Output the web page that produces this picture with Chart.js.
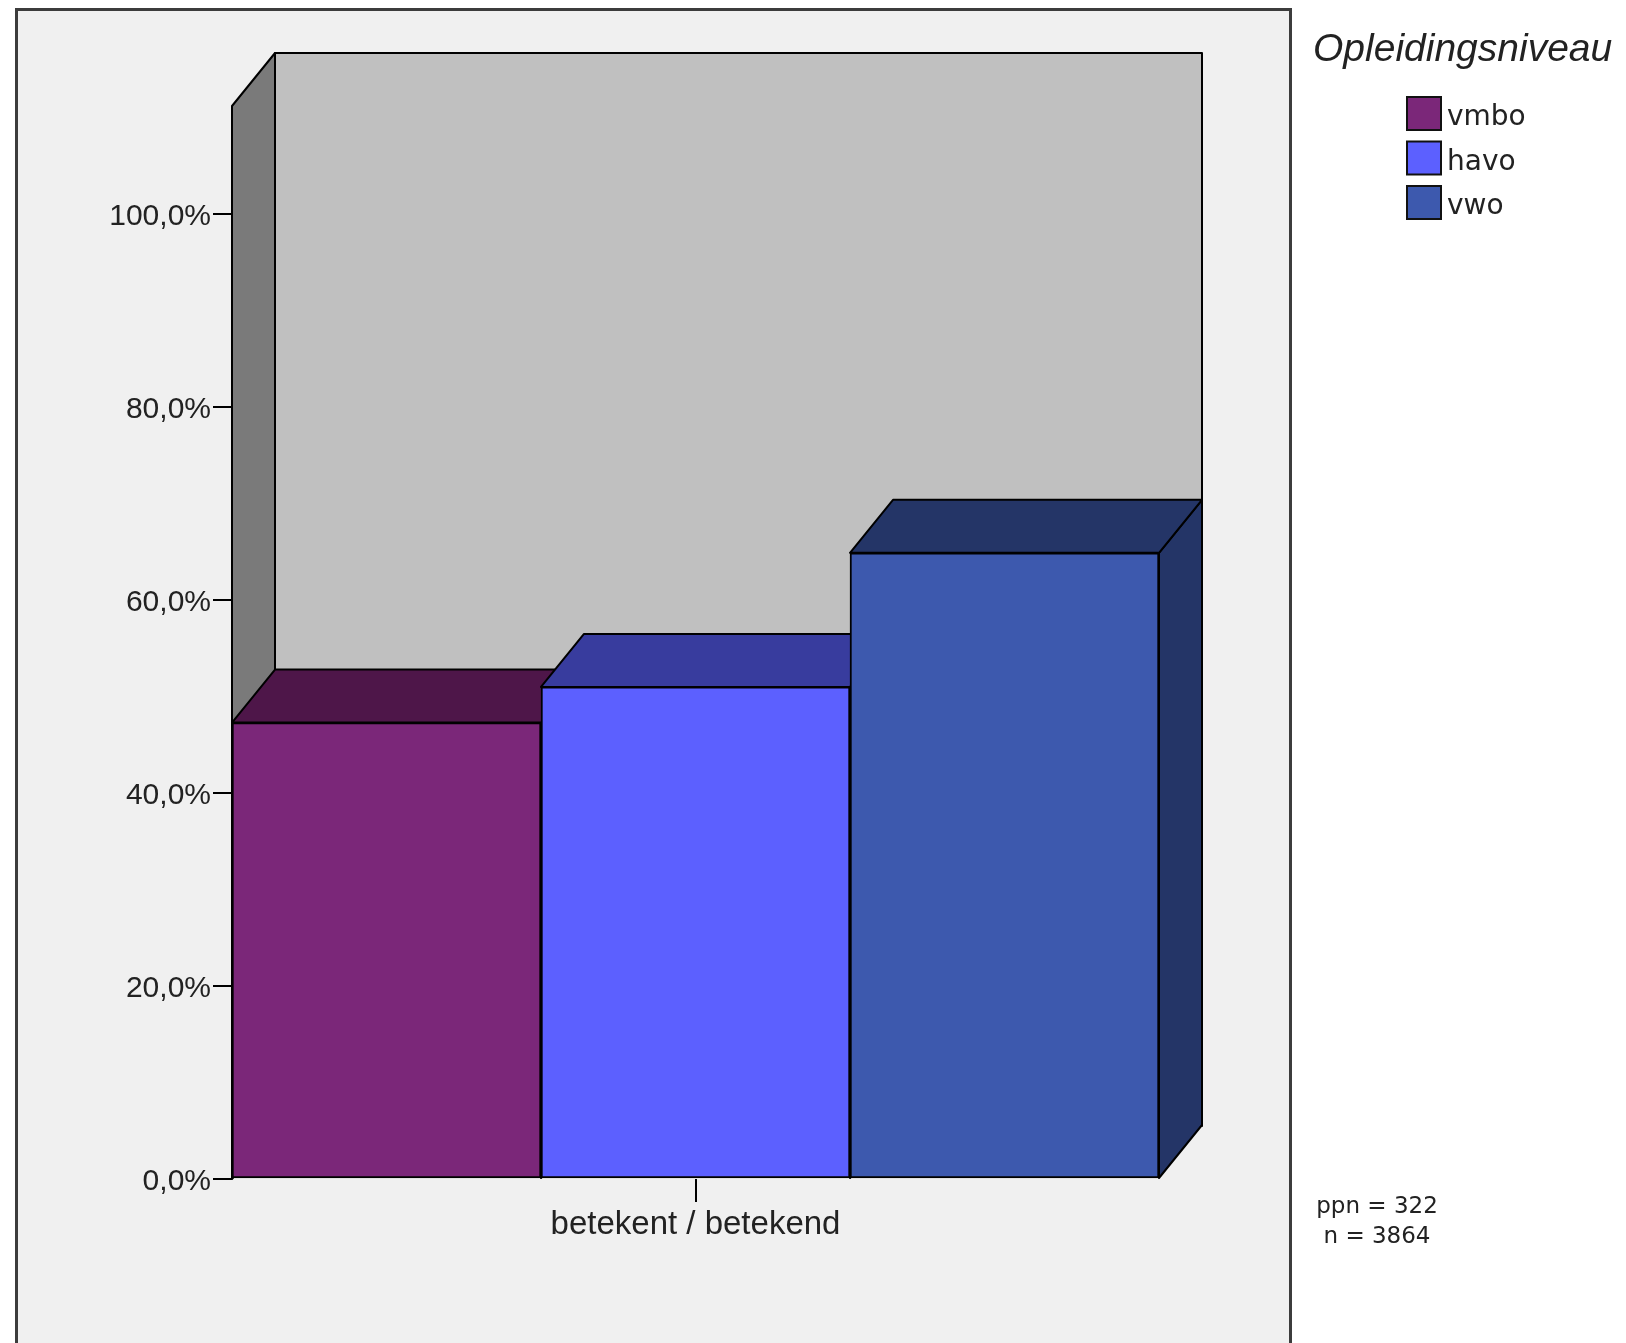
<!DOCTYPE html>
<html>
<head>
<meta charset="utf-8">
<script src="https://cdn.jsdelivr.net/npm/chart.js@4.4.1/dist/chart.umd.min.js"></script>
<style>
  html, body { margin: 0; padding: 0; background: #fff; }
  canvas { display: block; }
</style>
</head>
<body>
<canvas id="chart" width="1626" height="1343"></canvas>
<script>
// data
const categories = ["betekent / betekend"];
const seriesNames = ["vmbo", "havo", "vwo"];
const vmboValues = [47.3];
const havoValues = [51.0];
const vwoValues = [64.9];
const yTicks = [0, 20, 40, 60, 80, 100];
const yMax = 111.2;
const legendTitle = "Opleidingsniveau";
const notes = ["ppn = 322", "n = 3864"];

// colours: front face, top/side face
const frontColors = ["#7b2779", "#5c60ff", "#3d59ae"];
const topColors = ["#4e1649", "#383c9e", "#243567"];
const depthX = 43, depthY = -53;

function poly(ctx, pts, fill) {
  ctx.beginPath();
  ctx.moveTo(pts[0][0], pts[0][1]);
  for (let i = 1; i < pts.length; i++) ctx.lineTo(pts[i][0], pts[i][1]);
  ctx.closePath();
  ctx.fillStyle = fill;
  ctx.fill();
  ctx.stroke();
}

const box3d = {
  id: "box3d",
  beforeDraw(chart) {
    const ctx = chart.ctx;
    ctx.save();
    ctx.fillStyle = "#fff";
    ctx.fillRect(0, 0, chart.width, chart.height);
    ctx.fillStyle = "#f0f0f0";
    ctx.fillRect(15, 8, 1277, 1400);
    ctx.strokeStyle = "#3c3c3c";
    ctx.lineWidth = 3;
    ctx.strokeRect(16.5, 9.5, 1274, 1400);
    ctx.restore();
  },
  beforeDatasetsDraw(chart) {
    const ctx = chart.ctx;
    const a = chart.chartArea;
    ctx.save();
    ctx.strokeStyle = "#000";
    ctx.lineWidth = 2;
    ctx.lineJoin = "round";
    // back wall
    poly(ctx, [[a.left + depthX, a.top + depthY], [a.right + depthX, a.top + depthY],
               [a.right + depthX, a.bottom + depthY], [a.left + depthX, a.bottom + depthY]], "#c0c0c0");
    // left wall
    poly(ctx, [[a.left, a.top], [a.left + depthX, a.top + depthY],
               [a.left + depthX, a.bottom + depthY], [a.left, a.bottom]], "#7a7a7a");
    // tops and right sides of bars, left to right
    chart.data.datasets.forEach((ds, i) => {
      chart.getDatasetMeta(i).data.forEach((bar) => {
        const p = bar.getProps(["x", "y", "base", "width"], true);
        const x0 = p.x - p.width / 2, x1 = p.x + p.width / 2;
        poly(ctx, [[x1, p.y], [x1 + depthX, p.y + depthY], [x1 + depthX, p.base + depthY], [x1, p.base]], topColors[i]);
        poly(ctx, [[x0, p.y], [x0 + depthX, p.y + depthY], [x1 + depthX, p.y + depthY], [x1, p.y]], topColors[i]);
      });
    });
    ctx.restore();
  },
  afterDraw(chart) {
    const ctx = chart.ctx;
    ctx.save();
    ctx.fillStyle = "#222";
    ctx.textAlign = "left";
    ctx.textBaseline = "alphabetic";
    ctx.font = "italic 39px 'Liberation Sans'";
    ctx.fillText(legendTitle, 1313, 61);
    ctx.font = "28px 'DejaVu Sans'";
    ctx.textBaseline = "middle";
    chart.data.datasets.forEach((ds, i) => {
      const top = 97 + i * 44.5;
      ctx.fillStyle = ds.backgroundColor;
      ctx.fillRect(1407, top, 34, 33);
      ctx.strokeStyle = "#111";
      ctx.lineWidth = 2;
      ctx.strokeRect(1407, top, 34, 33);
      ctx.fillStyle = "#222";
      ctx.fillText(ds.label, 1447, top + 21);
    });
    ctx.font = "23px 'DejaVu Sans'";
    ctx.textAlign = "center";
    ctx.textBaseline = "alphabetic";
    ctx.fillText(notes[0], 1377, 1213);
    ctx.fillText(notes[1], 1377, 1243);
    ctx.restore();
  }
};

const seriesValues = [vmboValues, havoValues, vwoValues];

new Chart(document.getElementById("chart"), {
  type: "bar",
  data: {
    labels: categories,
    datasets: seriesNames.map((name, i) => ({
      label: name,
      data: seriesValues[i],
      backgroundColor: frontColors[i],
      borderColor: "#000",
      borderWidth: 2,
      borderSkipped: false,
      categoryPercentage: 1.0,
      barPercentage: 1.0,
    })),
  },
  options: {
    responsive: false,
    animation: false,
    layout: { padding: { top: 106, right: 467, bottom: 104, left: 0 } },
    plugins: { legend: { display: false }, tooltip: { enabled: false } },
    scales: {
      x: {
        grid: { offset: false, drawOnChartArea: false, color: "#000", lineWidth: 2, tickLength: 23 },
        border: { display: false },
        ticks: { color: "#222", font: { family: "'Liberation Sans'", size: 33 }, padding: 3 },
        afterFit: (scale) => { scale.height = 60; },
      },
      y: {
        min: 0,
        max: yMax,
        afterBuildTicks: (scale) => { scale.ticks = yTicks.map((v) => ({ value: v })); },
        grid: { drawOnChartArea: false, color: "#000", lineWidth: 2, tickLength: 19 },
        border: { display: false },
        ticks: {
          color: "#222",
          font: { family: "'Liberation Sans'", size: 30 },
          padding: 2,
          labelOffset: 3,
          callback: (v) => v.toFixed(1).replace(".", ",") + "%",
        },
        afterFit: (scale) => { scale.width = 232; },
      },
    },
  },
  plugins: [box3d],
});
</script>
</body>
</html>
